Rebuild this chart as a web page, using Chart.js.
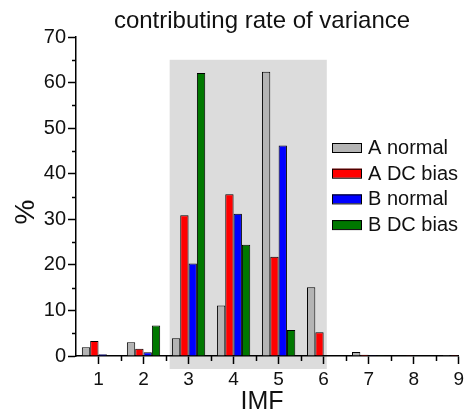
<!DOCTYPE html>
<html>
<head>
<meta charset="utf-8">
<script src="https://cdn.jsdelivr.net/npm/chart.js@4.4.0/dist/chart.umd.min.js"></script>
<style>
  html, body { margin: 0; padding: 0; background: #fff; }
  #wrap { width: 468px; height: 415px; }
</style>
</head>
<body>
<div id="wrap"><canvas id="chart" width="468" height="415"></canvas></div>
<script>
// --- data ---
const imf = [1, 2, 3, 4, 5, 6, 7, 8, 9];
const aNormal = [1.9, 3.0, 3.9, 11.1, 62.4, 15.1, 0.9, 0.1, 0.02];
const aDcBias = [3.3, 1.6, 30.9, 35.5, 21.8, 5.2, 0.3, 0.05, 0.02];
const bNormal = [0.4, 0.8, 20.3, 31.2, 46.2, 0.1, 0.05, 0.1, 0.02];
const bDcBias = [0.15, 6.7, 62.1, 24.4, 5.7, 0.1, 0.05, 0.1, 0.02];
const seriesNames = ['A normal', 'A DC bias', 'B normal', 'B DC bias'];
const yTicks = [0, 10, 20, 30, 40, 50, 60, 70];
const shadeRange = [2.58, 6.07, 65]; // x from, x to, top (%)

const FONT = "'Liberation Sans', Arial, sans-serif";
const colors = ['#b4b4b4', '#ff0000', '#0000ff', '#007800'];

const mkSet = (label, vals, i) => ({
    label,
    data: imf.map((x, k) => ({ x, y: vals[k] })),
    backgroundColor: colors[i],
    borderColor: '#000',
    borderWidth: 1,
    categoryPercentage: 0.74,
    barPercentage: 1.0
});

// grey band behind the dominant IMFs
const shadePlugin = {
    id: 'shade',
    beforeDraw(chart) {
        const { ctx, scales: { x, y }, chartArea } = chart;
        const x0 = x.getPixelForValue(shadeRange[0]);
        const x1 = x.getPixelForValue(shadeRange[1]);
        const top = y.getPixelForValue(shadeRange[2]);
        ctx.save();
        ctx.fillStyle = '#dcdcdc';
        ctx.fillRect(x0, top, x1 - x0, chartArea.bottom + 13 - top);
        ctx.restore();
    }
};

// minor ticks, titles and legend
const decorPlugin = {
    id: 'decor',
    afterDraw(chart) {
        const { ctx, scales: { x, y }, chartArea } = chart;
        ctx.save();
        ctx.strokeStyle = '#000';
        ctx.lineWidth = 1.5;
        const xt = x.ticks.map(t => t.value);
        for (let i = 0; i < xt.length - 1; i++) {
            const px = Math.round(x.getPixelForValue((xt[i] + xt[i + 1]) / 2)) + 0.5;
            ctx.beginPath();
            ctx.moveTo(px, chartArea.bottom);
            ctx.lineTo(px, chartArea.bottom + 5);
            ctx.stroke();
        }
        const yt = y.ticks.map(t => t.value);
        for (let i = 0; i < yt.length - 1; i++) {
            const py = Math.round(y.getPixelForValue((yt[i] + yt[i + 1]) / 2)) + 0.5;
            ctx.beginPath();
            ctx.moveTo(chartArea.left - 4, py);
            ctx.lineTo(chartArea.left, py);
            ctx.stroke();
        }

        ctx.fillStyle = '#111';
        ctx.textAlign = 'center';
        ctx.textBaseline = 'alphabetic';
        ctx.font = '24px ' + FONT;
        ctx.fillText('contributing rate of variance', 262, 28);

        ctx.textBaseline = 'middle';
        ctx.font = '25px ' + FONT;
        ctx.fillText('IMF', 262, 402);

        ctx.save();
        ctx.translate(26, 212);
        ctx.rotate(-Math.PI / 2);
        ctx.font = '28px ' + FONT;
        ctx.fillText('%', 0, 0);
        ctx.restore();

        // legend
        ctx.font = '20px ' + FONT;
        ctx.textAlign = 'left';
        chart.data.datasets.forEach((ds, i) => {
            const cy = 147.5 + i * 25.7;
            ctx.fillStyle = ds.backgroundColor;
            ctx.fillRect(332, cy - 4.5, 30, 9);
            ctx.lineWidth = 1;
            ctx.strokeStyle = '#000';
            ctx.strokeRect(332.5, cy - 4, 29, 9);
            ctx.fillStyle = '#111';
            ctx.fillText(ds.label, 368, cy + 1);
        });
        ctx.restore();
    }
};

new Chart(document.getElementById('chart'), {
    type: 'bar',
    data: {
        datasets: [
            mkSet(seriesNames[0], aNormal, 0),
            mkSet(seriesNames[1], aDcBias, 1),
            mkSet(seriesNames[2], bNormal, 2),
            mkSet(seriesNames[3], bDcBias, 3)
        ]
    },
    options: {
        responsive: false,
        animation: false,
        events: [],
        layout: { padding: { top: 37, right: 5, bottom: 0, left: 0 } },
        plugins: {
            legend: { display: false },
            tooltip: { enabled: false }
        },
        scales: {
            x: {
                type: 'linear',
                min: 0.5,
                max: 9,
                offset: false,
                afterBuildTicks: s => { s.ticks = imf.map(v => ({ value: v })); },
                afterFit: s => { s.height = 59; },
                grid: { offset: false, drawOnChartArea: false, tickLength: 8, tickWidth: 1.5, tickColor: '#000' },
                border: { color: '#000', width: 1.5 },
                ticks: { color: '#111', padding: 4, font: { family: FONT, size: 19 } }
            },
            y: {
                min: 0,
                max: 70,
                afterBuildTicks: s => { s.ticks = yTicks.map(v => ({ value: v })); },
                afterFit: s => { s.width = 76; },
                grid: { drawOnChartArea: false, tickLength: 8, tickWidth: 1.5, tickColor: '#000' },
                border: { color: '#000', width: 1.5 },
                ticks: { color: '#111', padding: 2, font: { family: FONT, size: 20 } }
            }
        }
    },
    plugins: [shadePlugin, decorPlugin]
});
</script>
</body>
</html>
